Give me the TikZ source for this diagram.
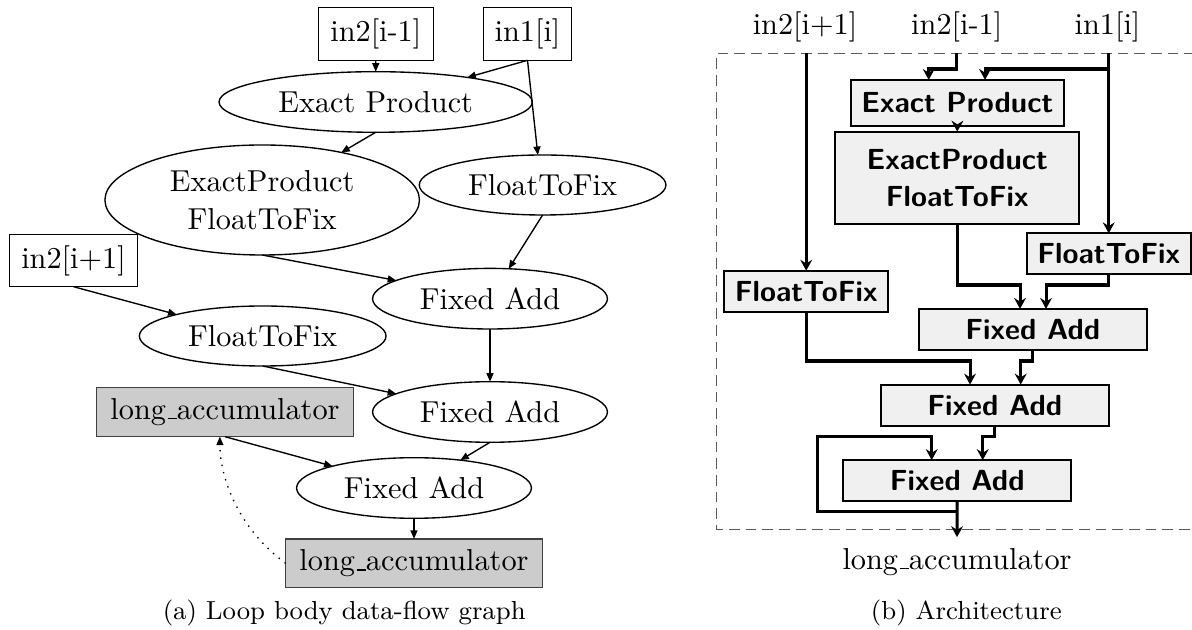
\documentclass[tikz,border=0pt]{standalone}
\usetikzlibrary{arrows.meta,shapes.geometric,calc}
\newcommand{\lowbar}{\leavevmode\kern.06em\vbox{\hrule width.3em}}
\begin{document}
\begin{tikzpicture}[x=0.33pt,y=-0.33pt,
  every node/.style={inner sep=0pt, outer sep=0pt, font=\fontsize{10}{12.6}\selectfont},
  gv/.style={draw, line width=0.45pt},
  gvell/.style={gv, ellipse},
  gvbox/.style={gv, rectangle},
  accbox/.style={draw=black!75, fill=black!20, line width=0.45pt, rectangle},
  gvarrow/.style={line width=0.45pt, -{Triangle[length=2.8pt,width=2.3pt]}},
  hwbox/.style={draw, fill=black!6, line width=0.7pt, rectangle, align=center,
    font=\fontsize{9.6}{12.1}\selectfont\sffamily\bfseries},
  wire/.style={line width=1pt, -{Stealth[length=3.6pt,width=3.9pt,inset=1.2pt]}},
  boundary/.style={draw=black!65, line width=0.5pt, dash pattern=on 3.5pt off 2pt},
  captext/.style={font=\fontsize{8.6}{10}\selectfont}
]
\useasboundingbox (0,0) rectangle (1192,630);

% ---------- (a) data-flow graph ----------
\node[gvbox, minimum width=37.95pt, minimum height=17.5pt] (a-in2m) at (375.8,33.8) {in2[i-1]};
\node[gvbox, minimum width=29.2pt, minimum height=17.5pt] (a-in1) at (527.5,33.8) {in1[i]};
\node[gvell, minimum width=103.4pt, minimum height=20pt] (a-ep) at (375.7,102) {Exact Product};
\node[gvell, minimum width=103.8pt, minimum height=36.3pt, align=center] (a-epf) at (262.2,200) {ExactProduct\\FloatToFix};
\node[gvell, minimum width=81.4pt, minimum height=19.8pt] (a-ftf1) at (542.6,185) {FloatToFix};
\node[gvbox, minimum width=42.4pt, minimum height=17.3pt] (a-in2p) at (73.5,260.5) {in2[i+1]};
\node[gvell, minimum width=77.5pt, minimum height=20pt] (a-fa1) at (490,298.7) {Fixed Add};
\node[gvell, minimum width=81.4pt, minimum height=19.8pt] (a-ftf2) at (262.7,336) {FloatToFix};
\node[gvell, minimum width=77.5pt, minimum height=20pt] (a-fa2) at (490,412) {Fixed Add};
\node[accbox, minimum width=84.7pt, minimum height=16.3pt] (a-la1) at (225,412) {long\lowbar accumulator};
\node[gvell, minimum width=77.5pt, minimum height=20pt] (a-fa3) at (414,488) {Fixed Add};
\node[accbox, minimum width=84.7pt, minimum height=16.1pt] (a-la2) at (414,563.3) {long\lowbar accumulator};
\node[captext] (a-cap) at (344.2,613) {(a) Loop body data-flow graph};

\draw[gvarrow] (a-in2m.south) -- (a-ep.north);
\draw[gvarrow] (a-in1.south) -- (a-ep.15);
\draw[gvarrow] (a-in1.south) -- (a-ftf1.99);
\draw[gvarrow] (a-ep.south) -- (a-epf.31);
\draw[gvarrow] (a-epf.south) -- (a-fa1.169);
\draw[gvarrow] (a-ftf1.south) -- (a-fa1.58);
\draw[gvarrow] (a-in2p.south) -- (a-ftf2.166);
\draw[gvarrow] (a-fa1.south) -- (a-fa2.north);
\draw[gvarrow] (a-ftf2.south) -- (a-fa2.169);
\draw[gvarrow] (a-fa2.south) -- (a-fa3.31);
\draw[gvarrow] (a-la1.south) -- (a-fa3.165);
\draw[gvarrow] (a-fa3.south) -- (a-la2.north);
\draw[gvarrow, dotted] (a-la2.west) .. controls (240,530) and (220,480) .. ($(a-la1.south west)!0.48!(a-la1.south east)$);

% ---------- (b) architecture ----------
\draw[boundary] (1195,53.3) -- (716.7,53.3) -- (716.7,529.3) -- (1195,529.3);

\node (b-t1) at (805,27) {in2[i+1]};
\node (b-t2) at (956.7,27) {in2[i-1]};
\node (b-t3) at (1107.5,27) {in1[i]};
\node[hwbox, minimum width=70.4pt, minimum height=15.1pt] (b-ep) at (957.3,102.8) {Exact Product};
\node[hwbox, minimum width=80.6pt, minimum height=30.6pt] (b-epf) at (957.2,178) {ExactProduct\\FloatToFix};
\node[hwbox, minimum width=54.1pt, minimum height=13.5pt] (b-ftfr) at (1108.7,253.8) {FloatToFix};
\node[hwbox, minimum width=54pt, minimum height=13.7pt] (b-ftfl) at (806.2,291.5) {FloatToFix};
\node[hwbox, minimum width=75.1pt, minimum height=13.6pt] (b-fa1) at (1032.8,329.5) {Fixed Add};
\node[hwbox, minimum width=75.1pt, minimum height=13.6pt] (b-fa2) at (994.8,405.2) {Fixed Add};
\node[hwbox, minimum width=75.1pt, minimum height=13.6pt] (b-fa3) at (957.2,480.7) {Fixed Add};
\node[inner sep=3.6pt] (b-la) at (957,561.7) {long\lowbar accumulator};
\node[captext] (b-cap) at (966.3,613) {(b) Architecture};

\coordinate (ytop) at (0,53.3);
\coordinate (y1) at (0,69);
\coordinate (y2) at (0,285);
\coordinate (y3) at (0,361);
\coordinate (y4) at (0,436.7);
\coordinate (y5) at (0,511.7);
\coordinate (xfb) at (817.7,0);

\draw[wire] (b-ftfl.north |- ytop) -- (b-ftfl.north);
\draw[wire] (b-t2.south |- ytop) -- (b-t2.south |- y1) -| ($(b-ep.north)+(-28.6,0)$);
\draw[wire] (b-ftfr.north |- ytop) -- (b-ftfr.north);
\draw[wire] (b-ftfr.north |- y1) -| ($(b-ep.north)+(27.7,0)$);
\draw[wire] (b-ep.south) -- (b-epf.north);
\draw[wire] (b-epf.south) -- (b-epf.south |- y2) -| ($(b-fa1.north)+(-12.8,0)$);
\draw[wire] (b-ftfr.south) -- (b-ftfr.south |- y2) -| ($(b-fa1.north)+(13.2,0)$);
\draw[wire] (b-ftfl.south) -- (b-ftfl.south |- y3) -| ($(b-fa2.north)+(-24.8,0)$);
\draw[wire] (b-fa1.south) -- (b-fa1.south |- y3) -| ($(b-fa2.north)+(25.9,0)$);
\draw[wire] (b-fa2.south) -- (b-fa2.south |- y4) -| ($(b-fa3.north)+(25.5,0)$);
\draw[wire] (b-fa3.south |- y5) -- (xfb |- y5) -- (xfb |- y4) -| ($(b-fa3.north)+(-25.5,0)$);
\draw[wire] (b-fa3.south) -- (b-la.north);
\end{tikzpicture}
\end{document}
